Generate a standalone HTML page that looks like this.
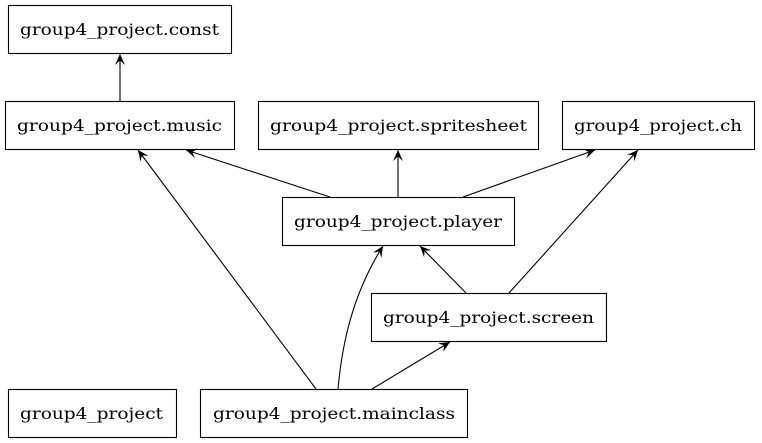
<!DOCTYPE html>
<html><head><meta charset="utf-8"><style>
html,body{margin:0;padding:0;background:#fff;}
svg{display:block;}
text{font-family:"DejaVu Serif","Liberation Serif",serif;font-size:16px;fill:#000;}
</style></head><body>
<svg width="762" height="443" viewBox="0 0 762 443" xmlns="http://www.w3.org/2000/svg">
<defs>
<marker id="v" markerWidth="12" markerHeight="12" refX="11" refY="5.5" orient="auto" markerUnits="userSpaceOnUse">
<path d="M0,0.5 L11,5.5 L0,10.5 L4.5,5.5 z" fill="#000"/>
</marker>
</defs>
<g fill="none" stroke="#000" stroke-width="1.1">
<rect x="8.5" y="5.5" width="223" height="48"/>
<rect x="5.5" y="101.5" width="229" height="48"/>
<rect x="258.5" y="101.5" width="280" height="48"/>
<rect x="562.5" y="101.5" width="192" height="48"/>
<rect x="282.5" y="197.5" width="232" height="48"/>
<rect x="371.5" y="293.5" width="235" height="48"/>
<rect x="8.5" y="389.5" width="168" height="48"/>
<rect x="200.5" y="389.5" width="267" height="48"/>
</g>
<g fill="none" stroke="#000" stroke-width="1.1" marker-end="url(#v)">
<path d="M120,101 L120,54"/>
<path d="M330,197 L186,150"/>
<path d="M398,197 L398,150"/>
<path d="M463,197 L595,150"/>
<path d="M466,293 L420,246"/>
<path d="M509,293 L638,150"/>
<path d="M316,389 L138,150"/>
<path d="M338,389 C342,345 352,295 383,246"/>
<path d="M372,389 L450,342"/>
</g>
<g>
<text x="20" y="35" textLength="199" lengthAdjust="spacingAndGlyphs">group4_project.const</text>
<text x="17" y="131" textLength="205" lengthAdjust="spacingAndGlyphs">group4_project.music</text>
<text x="270" y="131" textLength="257" lengthAdjust="spacingAndGlyphs">group4_project.spritesheet</text>
<text x="574" y="131" textLength="168" lengthAdjust="spacingAndGlyphs">group4_project.ch</text>
<text x="294" y="227" textLength="208" lengthAdjust="spacingAndGlyphs">group4_project.player</text>
<text x="383" y="323" textLength="211" lengthAdjust="spacingAndGlyphs">group4_project.screen</text>
<text x="20" y="419" textLength="143" lengthAdjust="spacingAndGlyphs">group4_project</text>
<text x="213" y="419" textLength="242" lengthAdjust="spacingAndGlyphs">group4_project.mainclass</text>
</g>
</svg>
</body></html>
